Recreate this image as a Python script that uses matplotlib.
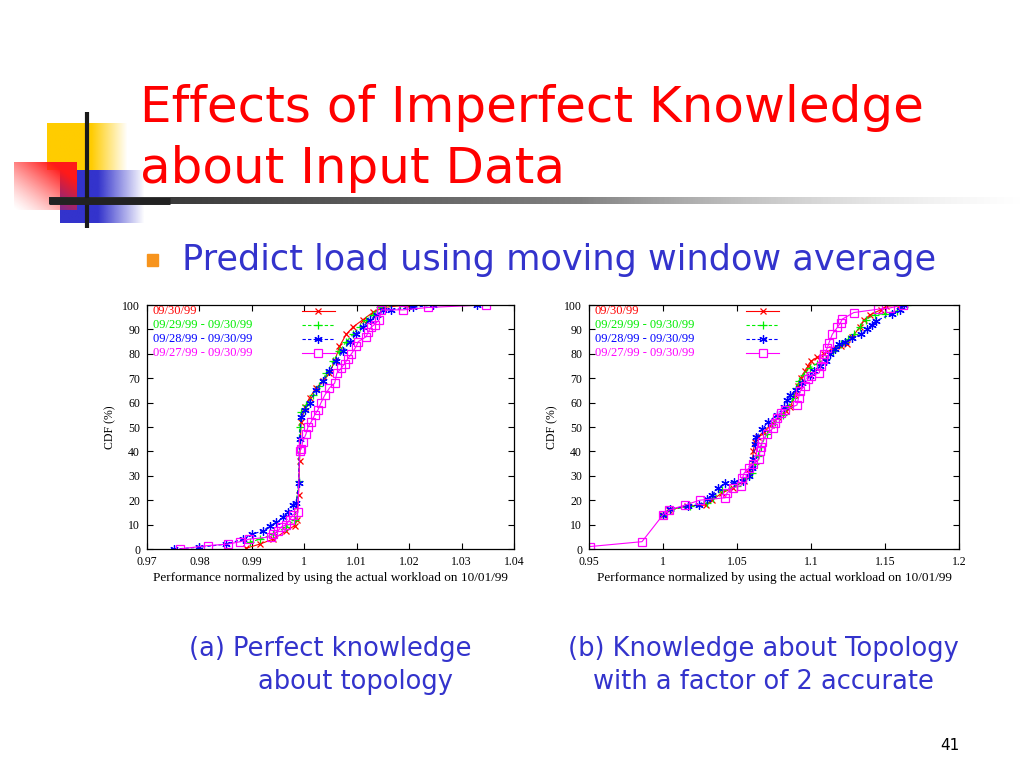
import numpy as np
import matplotlib
matplotlib.use("Agg")
import matplotlib.pyplot as plt

# ---- data (x = normalized performance, y = CDF %) ----
# (a) perfect knowledge about topology
a_red_x = [0.9889, 0.9915, 0.994, 0.9966, 0.9982, 0.9986, 0.9989, 0.9991, 0.9994, 1.0001, 1.001,
           1.0023, 1.0036, 1.0048, 1.0058, 1.0067, 1.008, 1.0093, 1.0112, 1.0131, 1.0151, 1.0195]
a_red_y = [0.3, 2, 4, 7.5, 9.6, 12, 22, 36, 52, 58, 62, 66, 69, 72, 77, 83, 88, 91, 94, 97, 99, 100]

a_green_x = [0.9896, 0.9915, 0.994, 0.9966, 0.9982, 0.9989, 0.9991, 0.9994, 1.0004, 1.0017, 1.0029,
             1.0042, 1.0055, 1.0067, 1.008, 1.0093, 1.0106, 1.0118, 1.0131, 1.0144, 1.0182, 1.0195]
a_green_y = [2.8, 4, 6, 9, 12, 28, 50, 56, 59, 63, 67, 72, 77, 81, 85, 88, 91, 94, 96, 99, 100, 100]

a_blue_x = [0.9752, 0.98, 0.9851, 0.9883, 0.99, 0.9922, 0.9934, 0.9947, 0.996, 0.9969, 0.9978, 0.9985,
            0.9989, 0.9991, 0.9994, 1.0001, 1.001, 1.0023, 1.0036, 1.0048, 1.0061, 1.0074, 1.0087,
            1.0099, 1.0112, 1.0125, 1.0138, 1.0151, 1.0165, 1.0208, 1.0246, 1.0329]
a_blue_y = [0, 0.7, 2, 4, 6, 7.5, 9.5, 11, 13, 15, 18, 19, 27, 45, 54, 57, 60, 65, 69, 73, 77, 81, 85,
            88, 91, 94, 96, 98, 98, 99, 100, 100]

a_mag_x = [0.9762, 0.9816, 0.9854, 0.9878, 0.9894, 0.9937, 0.994, 0.995, 0.9956, 0.9966, 0.9972,
           0.9978, 0.9988, 0.9991, 0.9994, 0.9997, 1.0003, 1.0007, 1.0013, 1.002, 1.0026, 1.0032,
           1.0039, 1.0048, 1.0058, 1.0062, 1.007, 1.0077, 1.0083, 1.009, 1.0099, 1.0103, 1.0118,
           1.0122, 1.0128, 1.0134, 1.0143, 1.0147, 1.0189, 1.0236, 1.0346]
a_mag_y = [0, 1.4, 2, 3, 4, 5, 6, 7.5, 9, 10, 12, 14, 15, 40, 41, 44, 47, 50, 52, 55, 57, 60, 63, 66,
           68, 72, 74, 76, 78, 80, 83, 85, 87, 89, 91, 92, 94, 98, 98, 99, 100]

# (b) knowledge about topology with a factor of 2 accurate
b_red_x = [1.0, 1.004, 1.016, 1.029, 1.033, 1.04, 1.047, 1.055, 1.058, 1.06, 1.061, 1.062, 1.064,
           1.068, 1.073, 1.078, 1.083, 1.086, 1.089, 1.091, 1.093, 1.096, 1.098, 1.1, 1.104, 1.109,
           1.114, 1.12, 1.124, 1.128, 1.133, 1.136, 1.14, 1.147, 1.151, 1.16]
b_red_y = [14, 16, 17.6, 18, 20, 23, 25, 28, 31, 34, 40, 44, 46, 48, 51, 54, 56.5, 58, 63, 67, 70,
           73, 75, 77, 78.5, 80, 82, 83, 84, 87, 91, 94, 96, 98, 99.5, 100]

b_green_x = [1.0, 1.005, 1.018, 1.03, 1.034, 1.04, 1.05, 1.056, 1.06, 1.062, 1.064, 1.066, 1.07,
             1.076, 1.081, 1.085, 1.088, 1.09, 1.092, 1.095, 1.099, 1.104, 1.11, 1.115, 1.12, 1.125,
             1.129, 1.133, 1.137, 1.143, 1.15, 1.158, 1.165]
b_green_y = [14, 16, 17.5, 19, 21, 24, 26, 29, 31, 35, 38, 42, 47, 52, 55, 58, 62, 66, 69, 71.5, 74,
             76, 78, 81, 84, 86, 88, 91, 94, 96, 96.5, 97.5, 100]

b_blue_x = [1.0, 1.005, 1.017, 1.024, 1.03, 1.033, 1.037, 1.042, 1.048, 1.054, 1.058, 1.06, 1.061,
            1.062, 1.063, 1.067, 1.071, 1.077, 1.082, 1.084, 1.086, 1.09, 1.094, 1.099, 1.102, 1.106,
            1.11, 1.113, 1.116, 1.119, 1.123, 1.128, 1.134, 1.138, 1.141, 1.144, 1.155, 1.16, 1.163]
b_blue_y = [14, 16.5, 17.5, 18, 20.5, 22, 25, 27, 27.5, 28, 30, 33, 37, 43, 46, 49, 52, 55, 58, 61,
            63, 65, 68, 71, 73, 75, 77, 80, 82, 84, 85, 86.5, 88, 90, 92, 93.5, 96.5, 98, 100]

b_mag_x = [0.9505, 0.9858, 1.0, 1.0042, 1.0149, 1.0248, 1.0421, 1.0433, 1.047, 1.0527, 1.0537,
           1.0547, 1.0578, 1.0609, 1.065, 1.0654, 1.066, 1.067, 1.0701, 1.0743, 1.0757, 1.0769,
           1.0794, 1.0823, 1.0905, 1.0916, 1.0926, 1.0957, 1.0977, 1.1, 1.1056, 1.1067, 1.1078,
           1.1089, 1.1111, 1.1122, 1.1144, 1.1178, 1.12, 1.1211, 1.1289, 1.1456, 1.1533, 1.1622]
b_mag_y = [1, 3, 14, 16, 18, 20, 21, 23, 25, 26, 29, 31, 33, 35, 37, 40, 42, 44, 47, 49.5, 51.5,
           53.6, 55.7, 57, 59, 62, 64.6, 67, 69.5, 71, 72.2, 75, 77.7, 79.8, 82.5, 84.6, 88, 90.8,
           92.8, 94.2, 96.9, 98.3, 98.8, 100]

legend_labels = ["09/30/99", "09/29/99 - 09/30/99", "09/28/99 - 09/30/99", "09/27/99 - 09/30/99"]
a_xticks = [0.97, 0.98, 0.99, 1.0, 1.01, 1.02, 1.03, 1.04]
a_xticklabels = ["0.97", "0.98", "0.99", "1", "1.01", "1.02", "1.03", "1.04"]
b_xticks = [0.95, 1.0, 1.05, 1.1, 1.15, 1.2]
b_xticklabels = ["0.95", "1", "1.05", "1.1", "1.15", "1.2"]
yticks = list(range(0, 101, 10))

# series styles: color, linestyle, marker, size
styles = [("#ff0000", "-", "x", 5),
          ("#00ee00", (0, (3, 2)), "+", 6),
          ("#0000ff", (0, (3, 2)), (6, 2, 0), 6),
          ("#ff00ff", "-", "s", 5.5)]

SERIF = "Liberation Serif"
SLIDE = "DejaVu Sans"
BLUE_TXT = "#3333cc"
FS = 8.5

fig = plt.figure(figsize=(10.24, 7.68), dpi=100)

# ---- slide decoration (pixel coordinates) ----
bg = fig.add_axes([0, 0, 1, 1], zorder=0)
bg.set_xlim(0, 1024)
bg.set_ylim(768, 0)
bg.axis("off")


def gradient_box(ax, x0, x1, y0, y1, rgb, alpha):
    img = np.zeros((alpha.shape[0], alpha.shape[1], 4))
    img[..., :3] = rgb
    img[..., 3] = alpha
    ax.imshow(img, extent=(x0, x1, y1, y0), aspect="auto", interpolation="bilinear")


# yellow square fading right
u = np.linspace(0, 1, 80)
al = np.clip((1 - u) / 0.45, 0, 1)[None, :].repeat(10, axis=0)
gradient_box(bg, 47, 128, 123, 170, (1.0, 0.8, 0.0), al)
# blue square fading right
al = np.clip((1 - u) / 0.55, 0, 1)[None, :].repeat(10, axis=0)
gradient_box(bg, 60, 145, 170, 223, (0.2, 0.2, 0.8), al)
# red square: white lower-left to red upper-right
gx, gy = np.meshgrid(np.linspace(0, 1, 60), np.linspace(1, 0, 50))
al = np.clip((gx + gy) / 1.6, 0, 1) ** 1.3
gradient_box(bg, 14, 77, 162, 210, (1.0, 0.1, 0.1), al)
# black cross lines
bg.plot([87, 87], [112, 228], color="#1a1a1a", lw=3, solid_capstyle="butt")
line_img = np.zeros((1, 200, 4))
line_img[..., :3] = np.linspace(0.15, 0.8, 200)[None, :, None]
line_img[..., 3] = np.clip(np.linspace(2.2, 0, 200), 0, 1)[None, :]
bg.imshow(line_img, extent=(49, 1024, 204, 197), aspect="auto", interpolation="bilinear")
bg.plot([49, 170], [200.5, 200.5], color="#222222", lw=5, solid_capstyle="butt")

# title, bullet, captions
fig.text(140 / 1024, 1 - 122 / 768, "Effects of Imperfect Knowledge", color="#ff0000",
         fontsize=36, family=SLIDE, va="baseline", ha="left")
fig.text(140 / 1024, 1 - 183 / 768, "about Input Data", color="#ff0000",
         fontsize=36, family=SLIDE, va="baseline", ha="left")
bg.add_patch(plt.Rectangle((147, 254), 11, 12, color="#f7941d"))
fig.text(182 / 1024, 1 - 270 / 768, "Predict load using moving window average", color=BLUE_TXT,
         fontsize=25.3, family=SLIDE, va="baseline", ha="left")
fig.text(330 / 1024, 1 - 656 / 768, "(a) Perfect knowledge", color=BLUE_TXT,
         fontsize=18.5, family=SLIDE, va="baseline", ha="center")
fig.text(355 / 1024, 1 - 689 / 768, "about topology", color=BLUE_TXT,
         fontsize=18.5, family=SLIDE, va="baseline", ha="center")
fig.text(763 / 1024, 1 - 656 / 768, "(b) Knowledge about Topology", color=BLUE_TXT,
         fontsize=18.5, family=SLIDE, va="baseline", ha="center")
fig.text(763 / 1024, 1 - 689 / 768, "with a factor of 2 accurate", color=BLUE_TXT,
         fontsize=18.5, family=SLIDE, va="baseline", ha="center")
fig.text(950 / 1024, 1 - 750 / 768, "41", color="black", fontsize=11, family=SLIDE,
         va="baseline", ha="center")


def cdf_panel(rect, series, xlim, xticks, xticklabels, leg_x):
    ax = fig.add_axes(rect, zorder=2)
    for (xs, ys), (col, ls, mk, ms) in zip(series, styles):
        ax.plot(xs, ys, color=col, linestyle=ls, lw=0.8, marker=mk, markersize=ms,
                mfc="none", mec=col, mew=0.9)
    ax.set_xlim(*xlim)
    ax.set_ylim(0, 100)
    ax.set_xticks(xticks)
    ax.set_xticklabels(xticklabels)
    ax.set_yticks(yticks)
    ax.tick_params(direction="in", top=True, right=True, length=4, width=0.8, labelsize=FS)
    ax.tick_params(axis="x", pad=5)
    ax.tick_params(axis="y", pad=5)
    for lab in ax.get_xticklabels() + ax.get_yticklabels():
        lab.set_family(SERIF)
    for sp in ax.spines.values():
        sp.set_linewidth(0.9)
    ax.set_xlabel("Performance normalized by using the actual workload on 10/01/99",
                  family=SERIF, fontsize=9.5, labelpad=3)
    ax.set_ylabel("CDF (%)", family=SERIF, fontsize=FS, labelpad=4)
    # gnuplot style key: label at left, sample to the right
    rows = [0.975, 0.918, 0.862, 0.803]
    for lab, yy, (col, ls, mk, ms) in zip(legend_labels, rows, styles):
        ax.text(0.015, yy, lab, color=col, transform=ax.transAxes, family=SERIF,
                fontsize=9, va="center", ha="left")
        ax.plot([leg_x, leg_x + 0.045, leg_x + 0.09], [yy, yy, yy], transform=ax.transAxes,
                color=col, linestyle=ls, lw=0.8, marker=mk, markersize=ms, markevery=[1],
                mfc="white" if mk == "s" else "none", mec=col, mew=0.9)
    return ax


cdf_panel([147 / 1024, 1 - 549 / 768, 367 / 1024, 244 / 768],
          [(a_red_x, a_red_y), (a_green_x, a_green_y), (a_blue_x, a_blue_y), (a_mag_x, a_mag_y)],
          (0.97, 1.04), a_xticks, a_xticklabels, 0.422)
cdf_panel([589 / 1024, 1 - 549 / 768, 370 / 1024, 244 / 768],
          [(b_red_x, b_red_y), (b_green_x, b_green_y), (b_blue_x, b_blue_y), (b_mag_x, b_mag_y)],
          (0.95, 1.2), b_xticks, b_xticklabels, 0.424)

fig.savefig("out.png", dpi=100)
